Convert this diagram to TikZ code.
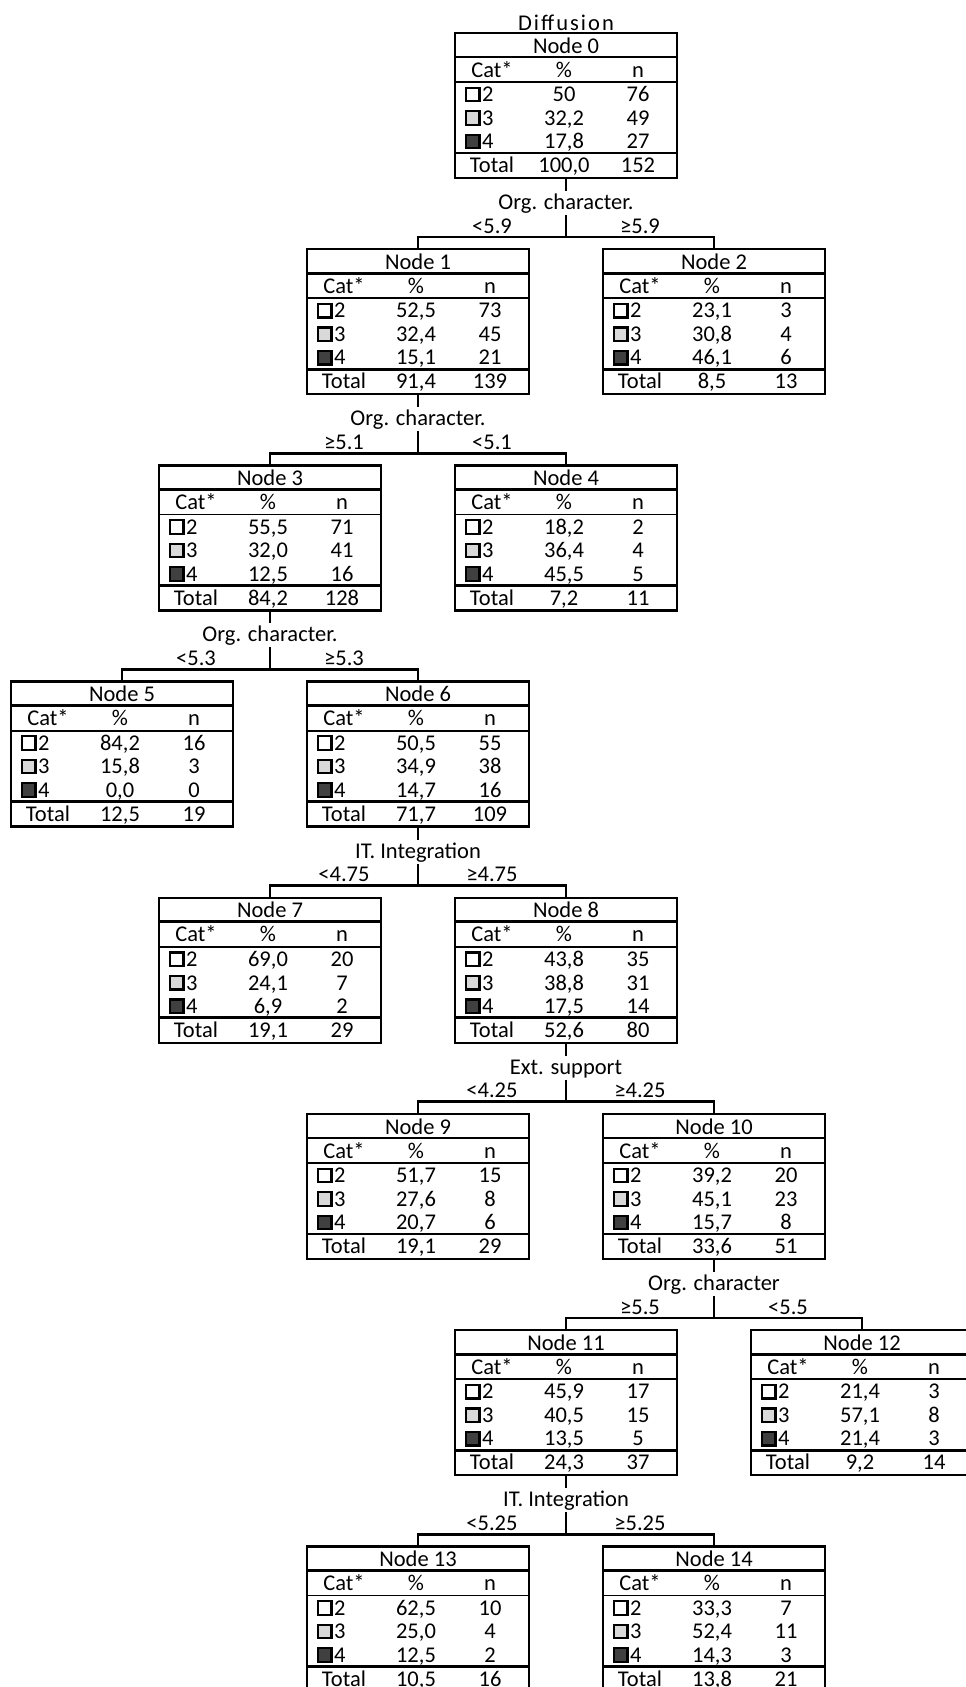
\documentclass[tikz,border=0pt]{standalone}
\usepackage{fontspec}
\setmainfont{Carlito}
\usetikzlibrary{calc}
\definecolor{lg}{HTML}{D9D9D9}
\definecolor{dg}{HTML}{404040}
\tikzset{
  box/.style={draw, line width=2.3pt, minimum width=222pt, minimum height=145pt, inner sep=0pt, outer sep=0pt, anchor=north west},
  txt/.style={inner sep=0pt, anchor=base, font=\fontsize{22.5}{27}\selectfont},
  txtl/.style={txt, anchor=base west},
  sq/.style={draw, line width=2.2pt},
  conn/.style={line width=2.8pt},
  rowline/.style={line width=2.8pt},
  hdrline/.style={line width=1.8pt}
}
\newcommand\tbox[4]{%
  \node[box] (n#1) at (#2,#3) {};
  \tboxfill{#1}#4\endrows}
\def\tboxfill#1#2/#3/#4/#5/#6/#7/#8/#9\endrows{%
 \begin{scope}[shift={(n#1.north west)}]
  \draw[rowline] (0,24) -- (222,24);
  \draw[hdrline] (0,49) -- (222,49);
  \draw[rowline] (0,120) -- (222,120);
  \node[txt] (n#1-ti) at (111,20) {Node #1};
  \node[txt] (n#1-hc) at (37,44) {Cat*};
  \node[txt] (n#1-hp) at (109,44) {\%};
  \node[txt] (n#1-hn) at (183,44) {n};
  \draw[sq,fill=white] (11,54.7) rectangle (24.5,68.2);
  \draw[sq,fill=lg] (11,78.2) rectangle (24.5,91.7);
  \draw[sq,fill=dg] (11,101.7) rectangle (24.5,115.2);
  \node[txtl] (n#1-c2) at (27,68.7) {2};
  \node[txtl] (n#1-c3) at (27,92.2) {3};
  \node[txtl] (n#1-c4) at (27,115.7) {4};
  \node[txt] (n#1-p2) at (109,68.7) {#2};
  \node[txt] (n#1-k2) at (183,68.7) {#3};
  \node[txt] (n#1-p3) at (109,92.2) {#4};
  \node[txt] (n#1-k3) at (183,92.2) {#5};
  \node[txt] (n#1-p4) at (109,115.7) {#6};
  \node[txt] (n#1-k4) at (183,115.7) {#7};
  \node[txt] (n#1-tt) at (37,139.7) {Total};
  \node[txt] (n#1-pt) at (109,139.7) {#8};
  \node[txt] (n#1-kt) at (183,139.7) {#9};
 \end{scope}}
\newcommand\tsplit[6]{%
  \coordinate (a#1) at ($(n#1.south)+(0,13)$);
  \coordinate (b#1) at ($(n#1.south)+(0,37)$);
  \coordinate (j#1) at ($(n#1.south)+(0,59)$);
  \node[txt] (s#1) at ($(n#1.south)+(0,31.5)$) {#4};
  \node[txt] (tl#1) at ($(n#1.south)+(-74,55)$) {#5};
  \node[txt] (tr#1) at ($(n#1.south)+(74,55)$) {#6};
  \draw[conn] (n#1.south) -- (a#1);
  \draw[conn] (b#1) -- (j#1);
  \draw[conn] (n#2.north) |- (j#1) -| (n#3.north);
}
\begin{document}
\begin{tikzpicture}[x=1pt,y=-1pt]
\useasboundingbox (0,0) rectangle (966,1687);
\fill[white] (0,0) rectangle (966,1687);
\clip (0,0) rectangle (966,1687);
\node[txt, font={\fontsize{22.5}{27}\selectfont\addfontfeature{LetterSpace=9}}] (title) at (566,30.5) {Diffusion};
\tbox{0}{455}{33}{50/76/32,2/49/17,8/27/100,0/152}
\tbox{1}{307}{249.2}{52,5/73/32,4/45/15,1/21/91,4/139}
\tbox{2}{603}{249.2}{23,1/3/30,8/4/46,1/6/8,5/13}
\tbox{3}{159}{465.4}{55,5/71/32,0/41/12,5/16/84,2/128}
\tbox{4}{455}{465.4}{18,2/2/36,4/4/45,5/5/7,2/11}
\tbox{5}{11}{681.6}{84,2/16/15,8/3/0,0/0/12,5/19}
\tbox{6}{307}{681.6}{50,5/55/34,9/38/14,7/16/71,7/109}
\tbox{7}{159}{897.8}{69,0/20/24,1/7/6,9/2/19,1/29}
\tbox{8}{455}{897.8}{43,8/35/38,8/31/17,5/14/52,6/80}
\tbox{9}{307}{1114}{51,7/15/27,6/8/20,7/6/19,1/29}
\tbox{10}{603}{1114}{39,2/20/45,1/23/15,7/8/33,6/51}
\tbox{11}{455}{1330.2}{45,9/17/40,5/15/13,5/5/24,3/37}
\tbox{12}{751}{1330.2}{21,4/3/57,1/8/21,4/3/9,2/14}
\tbox{13}{307}{1546.4}{62,5/10/25,0/4/12,5/2/10,5/16}
\tbox{14}{603}{1546.4}{33,3/7/52,4/11/14,3/3/13,8/21}
\tsplit{0}{1}{2}{Org. character.}{<5.9}{≥5.9}
\tsplit{1}{3}{4}{Org. character.}{≥5.1}{<5.1}
\tsplit{3}{5}{6}{Org. character.}{<5.3}{≥5.3}
\tsplit{6}{7}{8}{IT. Integration}{<4.75}{≥4.75}
\tsplit{8}{9}{10}{Ext. support}{<4.25}{≥4.25}
\tsplit{10}{11}{12}{Org. character}{≥5.5}{<5.5}
\tsplit{11}{13}{14}{IT. Integration}{<5.25}{≥5.25}
\end{tikzpicture}
\end{document}
